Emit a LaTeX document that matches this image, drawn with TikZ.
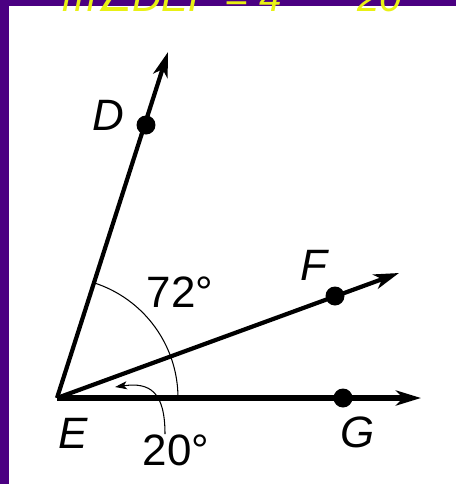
\documentclass[tikz,border=0pt]{standalone}
\usepackage{fontspec}
\setmainfont{Liberation Sans}
\newfontfamily\symfont{DejaVu Sans}
\usetikzlibrary{arrows.meta, positioning, calc}
\definecolor{frameviolet}{RGB}{75,0,130}
\definecolor{penyellow}{RGB}{232,240,20}

\begin{document}
\begin{tikzpicture}[x=0.02cm, y=-0.02cm, >={Stealth[length=0.5cm, width=0.3cm, inset=0.14cm]},
  ray/.style={line width=2.4pt, ->},
  pt/.style={circle, fill=black, inner sep=0pt, minimum size=0.38cm},
  lbl/.style={font=\fontsize{25}{25}\selectfont\itshape, inner sep=0pt},
  deg/.style={font=\fontsize{25}{25}\selectfont, inner sep=0pt},
  pen/.style={text=penyellow, font=\fontsize{23}{23}\selectfont\itshape, inner sep=0pt, anchor=base west}]

  \useasboundingbox (0,0) rectangle (456,484);
  \clip (0,0) rectangle (456,484);

  % frame
  \fill[frameviolet] (0,0) rectangle (456,6);
  \fill[frameviolet] (0,0) rectangle (9,484);
  \node[pen] (note1) at (62,11) {m{\symfont ∠}DEF = 4};
  \node[pen] (note2) at (357,11) {20};

  % vertex and points
  \coordinate (E) at (57,398);
  \coordinate (Dend) at (168,52);
  \coordinate (Fend) at (399,273);
  \coordinate (Gend) at (421,398);
  \node[pt] (D) at (146,125) {};
  \node[pt] (F) at (335,296) {};
  \node[pt] (G) at (343,398) {};

  % rays
  \draw[ray] (E) -- (Dend);
  \draw[ray] (E) -- (Fend);
  \draw[ray, line width=3.2pt] (E) -- (Gend);

  % angle mark
  \draw[line width=0.6pt] ($(E)+(121,0)$) arc[start angle=0, end angle=72.2, radius=2.42cm];

  % labels
  \node[lbl] (Dlbl) at (108,115) {D};
  \node[lbl] (Elbl) at (73,433) {E};
  \node[lbl] (Flbl) at (314,265) {F};
  \node[lbl] (Glbl) at (358,432) {G};
  \node[deg] (big) at (180,292) {72°};
  \node[deg] (small) at (176,450) {20°};

  \draw[line width=0.6pt, -{Stealth[length=0.24cm, width=0.16cm, inset=0.06cm]}]
    (small.north -| 165,0) .. controls (165,392) and (150,382) .. (115,387);
\end{tikzpicture}
\end{document}
